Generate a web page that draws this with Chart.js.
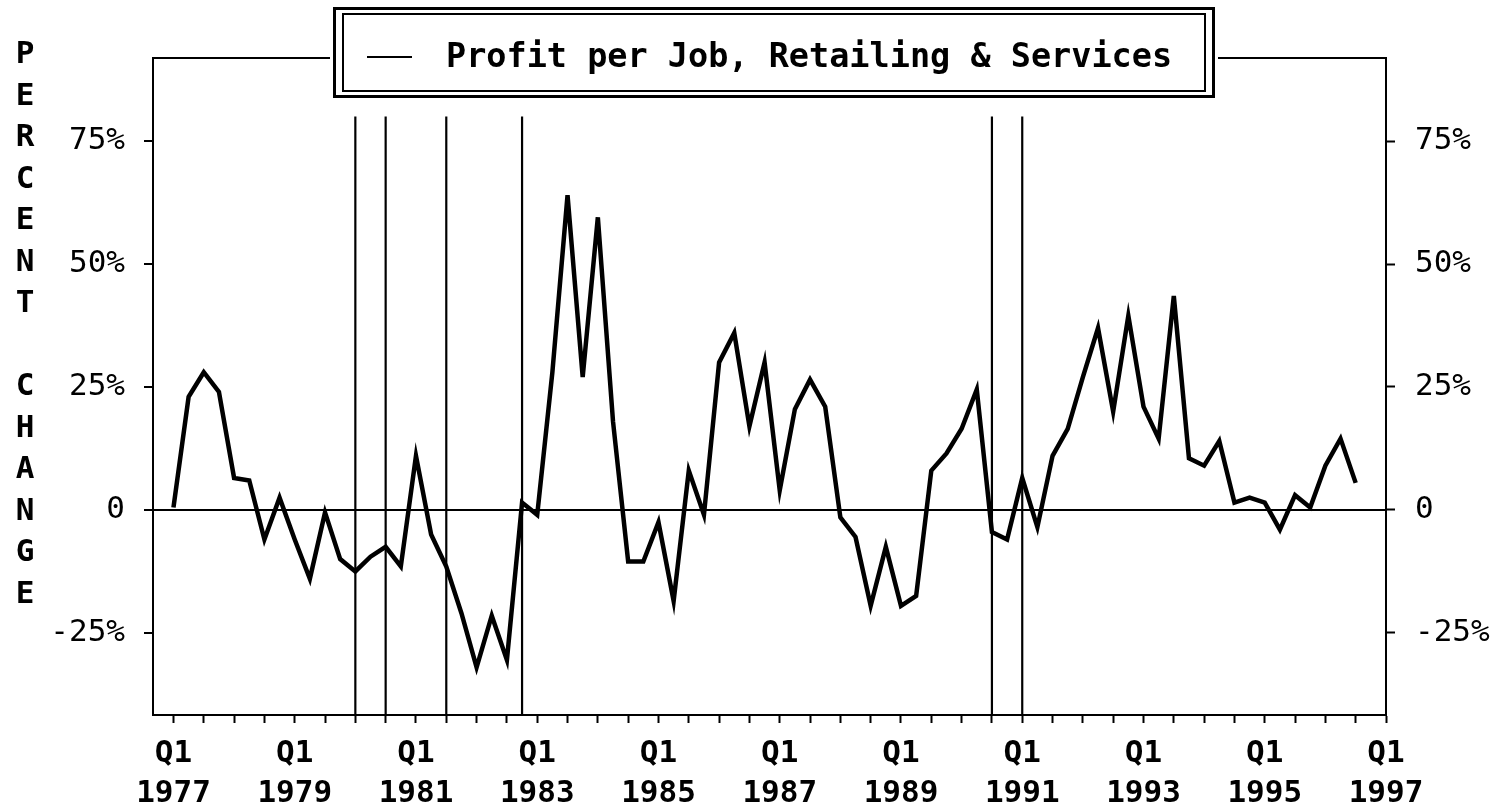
<!DOCTYPE html>
<html>
<head>
<meta charset="utf-8">
<script src="https://cdn.jsdelivr.net/npm/chart.js@4/dist/chart.umd.min.js"></script>
<style>
  html, body { margin: 0; padding: 0; background: #fff; }
  #wrap { width: 1498px; height: 809px; position: relative; }
</style>
</head>
<body>
<div id="wrap"><canvas id="c" width="1498" height="809"></canvas></div>
<script>
// ---- data ----
const seriesLabel = 'Profit per Job, Retailing & Services';
// quarterly % change, Q1 1977 .. Q3 1996 (index 0 = Q1 1977)
const profitPerJob = [0.5,23,28,24,6.5,6,-6,2.5,-6,-14,
  -0.5,-10,-12.5,-9.5,-7.5,-11.5,11,-5,-11.5,-21,
  -32,-21.5,-30.5,1.5,-1,28,64,27,59.5,18,
  -10.5,-10.5,-2.5,-18.5,8,-1,30,36,17,30,
  4,20.5,26.5,21,-1.5,-5.5,-19.5,-7.5,-19.5,-17.5,
  8,11.5,16.5,24.5,-4.5,-6,6.5,-3.5,11,16.5,
  27,37,20,39.5,21,14.5,43.5,10.5,9,14,
  1.5,2.5,1.5,-4,3,0.5,9,14.5,5.5];
// recession boundary markers (quarter index from Q1 1977)
const recessionMarks = [12, 14, 18, 23, 54, 56];
const recessionTop = 80;
// x-axis labelled ticks (quarter index -> label lines)
const xLabelPositions = [0, 8, 16, 24, 32, 40, 48, 56, 64, 72, 80];
const xLabelYears = ['1977','1979','1981','1983','1985','1987','1989','1991','1993','1995','1997'];
const xMinorStep = 2;
const yTicks = [-25, 0, 25, 50, 75];
const yMin = -41.7, yMax = 91.9;
const xMin = -1.35, xMax = 80;
const yTitle = 'PERCENT CHANGE';

// ---- build ----
const mono = '"DejaVu Sans Mono", "Liberation Mono", monospace';
const datasets = [{
  label: seriesLabel,
  data: profitPerJob.map((v, i) => ({x: i, y: v})),
  borderColor: '#000', borderWidth: 4.5, pointRadius: 0, tension: 0,
  yAxisID: 'y', order: 0
}];
recessionMarks.forEach(q => {
  datasets.push({
    label: 'recession', data: [{x: q, y: yMin}, {x: q, y: recessionTop}],
    borderColor: '#000', borderWidth: 2.2, pointRadius: 0, yAxisID: 'y', order: 1
  });
});

const frameAndLegend = {
  id: 'frameAndLegend',
  beforeDatasetsDraw(chart) {
    const {ctx, chartArea: a} = chart;
    ctx.save();
    ctx.strokeStyle = '#000'; ctx.lineWidth = 2;
    ctx.beginPath(); ctx.moveTo(a.left - 1, a.top); ctx.lineTo(a.right + 1, a.top); ctx.stroke();
    ctx.restore();
  },
  afterDraw(chart) {
    const {ctx} = chart;
    ctx.save();
    // legend box
    const ox = 333, oy = 7, ow = 882, oh = 91;
    ctx.fillStyle = '#fff';
    ctx.fillRect(ox - 3, oy - 2, ow + 6, oh + 4);
    ctx.strokeStyle = '#000';
    ctx.lineWidth = 3;
    ctx.strokeRect(ox + 1.5, oy + 1.5, ow - 3, oh - 3);
    ctx.lineWidth = 2;
    ctx.strokeRect(ox + 10, oy + 7, ow - 20, oh - 14);
    ctx.beginPath(); ctx.moveTo(367, 57); ctx.lineTo(412, 57); ctx.stroke();
    ctx.fillStyle = '#000';
    ctx.font = 'bold 33.5px ' + mono;
    ctx.textBaseline = 'middle'; ctx.textAlign = 'left';
    ctx.fillText(chart.data.datasets[0].label, 446, 58);
    // vertical stacked axis title
    ctx.font = 'bold 31px ' + mono;
    ctx.textAlign = 'center';
    [...yTitle].forEach((ch, k) => {
      if (ch !== ' ') ctx.fillText(ch, 25, 55 + k * 41.5);
    });
    ctx.restore();
  }
};

const yTickCallback = v => v === 0 ? '0' : (v < 0 ? '-' : '') + Math.abs(v) + '%';

new Chart(document.getElementById('c'), {
  type: 'line',
  data: { datasets },
  options: {
    responsive: false, animation: false, devicePixelRatio: 1,
    layout: { padding: { top: 58, left: 0, right: 0, bottom: 0 } },
    plugins: { legend: { display: false }, tooltip: { enabled: false } },
    scales: {
      x: {
        type: 'linear', min: xMin, max: xMax,
        afterBuildTicks(s) {
          const t = [];
          for (let q = 0; q <= xMax; q += xMinorStep) t.push({value: q});
          s.ticks = t;
        },
        afterFit(s) { s.height = 94; },
        ticks: {
          autoSkip: false, maxRotation: 0, minRotation: 0, padding: 11,
          color: '#000', font: { family: mono, size: 31, weight: 'bold', lineHeight: '40px' },
          callback(v) {
            const k = xLabelPositions.indexOf(v);
            return k >= 0 ? ['Q1', xLabelYears[k]] : '';
          }
        },
        grid: { drawOnChartArea: false, tickLength: 8, tickColor: '#000', tickWidth: 2 },
        border: { display: true, color: '#000', width: 2 }
      },
      y: {
        position: 'left', min: yMin, max: yMax,
        afterBuildTicks(s) { s.ticks = yTicks.map(v => ({value: v})); },
        afterFit(s) { s.width = 153; },
        ticks: { padding: 19, color: '#000', font: { family: mono, size: 31 }, callback: yTickCallback },
        grid: {
          drawOnChartArea: true, tickLength: 9, tickColor: '#000', tickWidth: 2,
          color: c => (c.tick && c.tick.value === 0) ? '#000' : 'rgba(0,0,0,0)',
          lineWidth: 2
        },
        border: { display: true, color: '#000', width: 2 }
      },
      y2: {
        position: 'right', min: yMin, max: yMax,
        afterBuildTicks(s) { s.ticks = yTicks.map(v => ({value: v})); },
        afterFit(s) { s.width = 112; },
        ticks: { padding: 20, color: '#000', font: { family: mono, size: 31 }, callback: yTickCallback },
        grid: { drawOnChartArea: false, tickLength: 9, tickColor: '#000', tickWidth: 2 },
        border: { display: true, color: '#000', width: 2 }
      }
    }
  },
  plugins: [frameAndLegend]
});
</script>
</body>
</html>
